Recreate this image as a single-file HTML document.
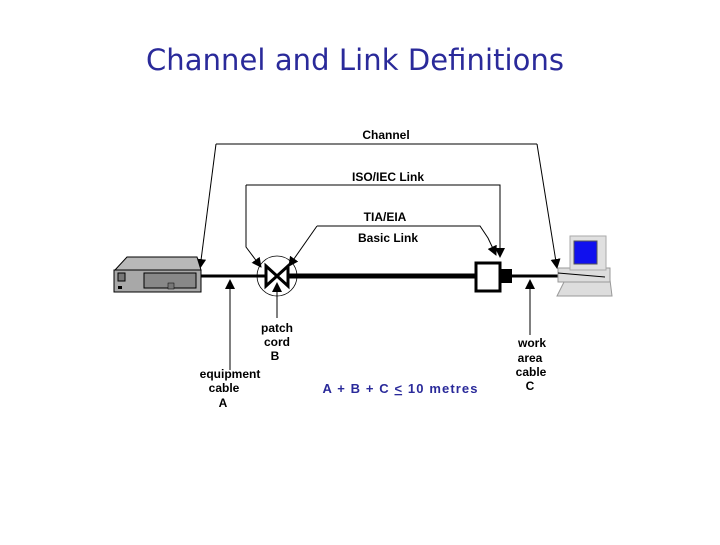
<!DOCTYPE html>
<html><head><meta charset="utf-8"><style>
body{margin:0;background:#fff;width:720px;height:540px;overflow:hidden}
</style></head><body>
<svg width="720" height="540" xmlns="http://www.w3.org/2000/svg" font-family="Liberation Sans, Arial, sans-serif">
<defs><marker id="a" markerWidth="10" markerHeight="10" refX="9" refY="5" orient="auto" markerUnits="userSpaceOnUse"><path d="M0,0 L10,5 L0,10 z" fill="#000"/></marker></defs>
<text x="355" y="70" text-anchor="middle" font-family="DejaVu Sans, sans-serif" font-size="29" fill="#2a2a9a" textLength="418">Channel and Link Definitions</text>
<g font-size="12" font-weight="bold" fill="#000" text-anchor="middle">
<text x="386" y="139">Channel</text>
<text x="388" y="181">ISO/IEC Link</text>
<text x="385" y="221">TIA/EIA</text>
<text x="388" y="242">Basic Link</text>
<text x="277" y="332">patch</text><text x="277" y="346">cord</text><text x="275" y="360">B</text>
<text x="230" y="378">equipment</text><text x="224" y="392">cable</text><text x="223" y="407">A</text>
<text x="532" y="347">work</text><text x="530" y="362">area</text><text x="531" y="376">cable</text><text x="530" y="390">C</text>
</g>
<text x="400" y="393" text-anchor="middle" font-size="13" font-weight="bold" fill="#2a2a9a" textLength="155">A + B + C <tspan text-decoration="underline">&lt;</tspan> 10 metres</text>
<g stroke="#000" stroke-width="1" fill="none">
<polyline points="216,144 537,144" />
<line x1="216" y1="144" x2="200" y2="268" marker-end="url(#a)"/>
<line x1="537" y1="144" x2="557" y2="268" marker-end="url(#a)"/>
<polyline points="246,185 500,185 500,257" marker-end="url(#a)"/>
<polyline points="246,185 246,247 261,267" marker-end="url(#a)"/>
<polyline points="317,226 480,226 488,238 496,255" marker-end="url(#a)"/>
<line x1="317" y1="226" x2="289" y2="266" marker-end="url(#a)"/>
<line x1="230" y1="370" x2="230" y2="280" marker-end="url(#a)"/>
<line x1="277" y1="318" x2="277" y2="283" marker-end="url(#a)"/>
<line x1="530" y1="335" x2="530" y2="280" marker-end="url(#a)"/>
<circle cx="277" cy="276" r="20" stroke-width="0.8"/>
</g>
<line x1="200" y1="276" x2="270" y2="276" stroke="#000" stroke-width="3"/>
<line x1="285" y1="276" x2="476" y2="276" stroke="#000" stroke-width="5"/>
<line x1="510" y1="276" x2="558" y2="276" stroke="#000" stroke-width="3"/>
<path d="M266,266 L277,276 L266,286 Z M288,266 L277,276 L288,286 Z" fill="#fff" stroke="#000" stroke-width="3" stroke-linejoin="miter"/>
<rect x="476" y="263" width="24" height="28" fill="#fff" stroke="#000" stroke-width="3"/>
<rect x="500" y="269" width="12" height="14" fill="#000"/>
<polygon points="115,270 127,257 197,257 201,270" fill="#b8b8b8" stroke="#000"/>
<rect x="114" y="270" width="87" height="22" fill="#a8a8a8" stroke="#000"/>
<rect x="144" y="273" width="52" height="15" fill="#888" stroke="#000"/>
<rect x="118" y="273" width="7" height="8" fill="#777" stroke="#000"/>
<rect x="118" y="286" width="4" height="3" fill="#000"/>
<rect x="168" y="283" width="6" height="6" fill="#777" stroke="#000" stroke-width=".5"/>
<polygon points="565,280 610,280 612,296 557,296" fill="#ddd" stroke="#999"/>
<rect x="558" y="268" width="52" height="14" fill="#ddd" stroke="#999"/>
<line x1="558" y1="273" x2="605" y2="277" stroke="#000"/>
<rect x="570" y="236" width="36" height="34" fill="#e0e0e0" stroke="#aaa"/>
<rect x="574" y="241" width="23" height="23" fill="#1010ee" stroke="#555"/>
</svg>
</body></html>
